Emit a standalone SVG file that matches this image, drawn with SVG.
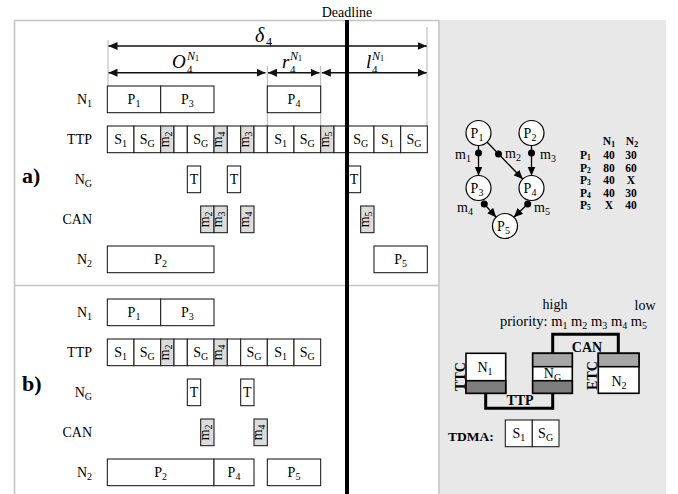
<svg xmlns="http://www.w3.org/2000/svg" width="678" height="494" viewBox="0 0 678 494">
<defs>
<style>
text{font-family:"Liberation Serif","Times New Roman",serif;fill:#000}
.l{font-size:14px;text-anchor:end}
.c{font-size:14px;text-anchor:middle}
.r{font-size:14px;text-anchor:middle}
.s{font-size:10px}
.b{fill:#fff;stroke:#222;stroke-width:1.1}
.g{fill:#dcdcdc;stroke:#222;stroke-width:1.1}
.guide{stroke:#b4b4b4;stroke-width:1;fill:none}
.arr{stroke:#111;stroke-width:1.4;fill:none;marker-start:url(#ah);marker-end:url(#ah)}
.frame{stroke:#c4c4c4;stroke-width:1.6;fill:none}
.it{font-style:italic}
.bold{font-weight:bold}
.nd{fill:#fff;stroke:#000;stroke-width:1.2}
.ed{stroke:#000;stroke-width:1.3;fill:none;marker-end:url(#dh)}
.bus{stroke:#000;stroke-width:3;fill:none}
.rb{fill:#fff;stroke:#000;stroke-width:1.6}
.tb{font-size:11.5px;font-weight:bold}
.tc{font-size:11.5px;font-weight:bold;text-anchor:middle}
</style>
<marker id="ah" viewBox="0 0 9 8" refX="9" refY="4" markerWidth="9" markerHeight="8" markerUnits="userSpaceOnUse" orient="auto-start-reverse"><path d="M0,0L9,4L0,8z" fill="#111"/></marker>
<marker id="dh" viewBox="0 0 9 8" refX="9" refY="4" markerWidth="9" markerHeight="8" markerUnits="userSpaceOnUse" orient="auto"><path d="M0,0L9,4L0,8z" fill="#000"/></marker>
</defs>

<!-- backgrounds and frames -->
<rect x="440" y="20" width="226" height="474" fill="#e8e8e8"/>
<path class="frame" d="M14.5,494 V20.5 H439 V494 M14.5,285.5 H439"/>

<!-- Deadline -->
<text class="c" x="347" y="17">Deadline</text>

<!-- top guides and arrows -->
<g id="dimensions">
<path class="guide" d="M108,40 V86 M427,27 V126 M267.3,66 V126 M320.7,66 V126"/>
<path class="arr" d="M108.5,46 H426.7"/>
<path class="arr" d="M108.5,72.7 H265.5"/>
<path class="arr" d="M268,72.7 H319.5"/>
<path class="arr" d="M321.8,72.7 H426.7"/>
<text class="it" x="255" y="42" font-size="20">δ</text><text x="266" y="46" font-size="12">4</text>
<text class="it" x="172" y="68" font-size="19">O</text><text x="187" y="73" font-size="11">4</text><text class="it" x="187" y="59.5" font-size="12">N<tspan font-size="8" font-style="normal" dy="1.5">1</tspan></text>
<text class="it" x="282" y="68" font-size="19">r</text><text x="290" y="73" font-size="11">4</text><text class="it" x="290" y="59.5" font-size="12">N<tspan font-size="8" font-style="normal" dy="1.5">1</tspan></text>
<text class="it" x="366" y="68" font-size="19">l</text><text x="372" y="73" font-size="11">4</text><text class="it" x="372" y="59.5" font-size="12">N<tspan font-size="8" font-style="normal" dy="1.5">1</tspan></text>
</g>

<!-- section a -->
<g id="section-a">
<text x="22" y="183" font-size="22" class="bold">a)</text>
<text class="l" x="92" y="104">N<tspan class="s" dy="3">1</tspan></text>
<text class="l" x="92" y="144">TTP</text>
<text class="l" x="92" y="184">N<tspan class="s" dy="3">G</tspan></text>
<text class="l" x="92" y="224">CAN</text>
<text class="l" x="92" y="264">N<tspan class="s" dy="3">2</tspan></text>

<g id="a-N1">
<rect class="b" x="107.33" y="86" width="53.33" height="26.67"/><text class="c" x="134" y="104.3">P<tspan class="s" dy="3">1</tspan></text>
<rect class="b" x="160.67" y="86" width="53.33" height="26.67"/><text class="c" x="187.33" y="104.3">P<tspan class="s" dy="3">3</tspan></text>
<rect class="b" x="267.33" y="86" width="53.33" height="26.67"/><text class="c" x="294" y="104.3">P<tspan class="s" dy="3">4</tspan></text>
</g>

<g id="a-TTP">
<rect class="b" x="107.33" y="126" width="26.67" height="26.67"/><text class="c" x="120.67" y="144.3">S<tspan class="s" dy="3">1</tspan></text>
<rect class="b" x="134" y="126" width="26.67" height="26.67"/><text class="c" x="147.33" y="144.3">S<tspan class="s" dy="3">G</tspan></text>
<rect class="g" x="160.67" y="126" width="13.33" height="26.67"/><text class="r" transform="translate(167.33,139.33) rotate(-90)" y="1.5">m<tspan class="s" dy="3">2</tspan></text>
<rect class="b" x="174" y="126" width="13.33" height="26.67"/>
<rect class="b" x="187.33" y="126" width="26.67" height="26.67"/><text class="c" x="200.67" y="144.3">S<tspan class="s" dy="3">G</tspan></text>
<rect class="g" x="214" y="126" width="13.33" height="26.67"/><text class="r" transform="translate(220.67,139.33) rotate(-90)" y="1.5">m<tspan class="s" dy="3">4</tspan></text>
<rect class="b" x="227.33" y="126" width="13.33" height="26.67"/>
<rect class="g" x="240.67" y="126" width="13.33" height="26.67"/><text class="r" transform="translate(247.33,139.33) rotate(-90)" y="1.5">m<tspan class="s" dy="3">3</tspan></text>
<rect class="b" x="254" y="126" width="13.33" height="26.67"/>
<rect class="b" x="267.33" y="126" width="26.67" height="26.67"/><text class="c" x="280.67" y="144.3">S<tspan class="s" dy="3">1</tspan></text>
<rect class="b" x="294" y="126" width="26.67" height="26.67"/><text class="c" x="307.33" y="144.3">S<tspan class="s" dy="3">G</tspan></text>
<rect class="g" x="320.67" y="126" width="13.33" height="26.67"/><text class="r" transform="translate(327.33,139.33) rotate(-90)" y="1.5">m<tspan class="s" dy="3">5</tspan></text>
<rect class="b" x="334" y="126" width="13.33" height="26.67"/>
<rect class="b" x="347.33" y="126" width="26.67" height="26.67"/><text class="c" x="360.67" y="144.3">S<tspan class="s" dy="3">G</tspan></text>
<rect class="b" x="374" y="126" width="26.67" height="26.67"/><text class="c" x="387.33" y="144.3">S<tspan class="s" dy="3">1</tspan></text>
<rect class="b" x="400.67" y="126" width="26.67" height="26.67"/><text class="c" x="414" y="144.3">S<tspan class="s" dy="3">G</tspan></text>
</g>

<g id="a-NG">
<rect class="b" x="187.33" y="166" width="13.33" height="26.67"/><text class="c" x="194" y="184.3">T</text>
<rect class="b" x="227.33" y="166" width="13.33" height="26.67"/><text class="c" x="234" y="184.3">T</text>
<rect class="b" x="347.33" y="166" width="13.33" height="26.67"/><text class="c" x="354" y="184.3">T</text>
</g>

<g id="a-CAN">
<rect class="g" x="200.67" y="206" width="13.33" height="26.67"/><text class="r" transform="translate(207.33,219.33) rotate(-90)" y="1.5">m<tspan class="s" dy="3">2</tspan></text>
<rect class="g" x="214" y="206" width="13.33" height="26.67"/><text class="r" transform="translate(220.67,219.33) rotate(-90)" y="1.5">m<tspan class="s" dy="3">3</tspan></text>
<rect class="g" x="240.67" y="206" width="13.33" height="26.67"/><text class="r" transform="translate(247.33,219.33) rotate(-90)" y="1.5">m<tspan class="s" dy="3">4</tspan></text>
<rect class="g" x="360.67" y="206" width="13.33" height="26.67"/><text class="r" transform="translate(367.33,219.33) rotate(-90)" y="1.5">m<tspan class="s" dy="3">5</tspan></text>
</g>

<g id="a-N2">
<rect class="b" x="107.33" y="246" width="106.67" height="26.67"/><text class="c" x="160.67" y="264.3">P<tspan class="s" dy="3">2</tspan></text>
<rect class="b" x="374" y="246" width="53.33" height="26.67"/><text class="c" x="400.67" y="264.3">P<tspan class="s" dy="3">5</tspan></text>
</g>
</g>

<!-- section b -->
<g id="section-b">
<text x="22" y="391" font-size="22" class="bold">b)</text>
<text class="l" x="92" y="317">N<tspan class="s" dy="3">1</tspan></text>
<text class="l" x="92" y="357">TTP</text>
<text class="l" x="92" y="397">N<tspan class="s" dy="3">G</tspan></text>
<text class="l" x="92" y="437">CAN</text>
<text class="l" x="92" y="477">N<tspan class="s" dy="3">2</tspan></text>

<g id="b-N1">
<rect class="b" x="107.33" y="299" width="53.33" height="26.67"/><text class="c" x="134" y="317.3">P<tspan class="s" dy="3">1</tspan></text>
<rect class="b" x="160.67" y="299" width="53.33" height="26.67"/><text class="c" x="187.33" y="317.3">P<tspan class="s" dy="3">3</tspan></text>
</g>

<g id="b-TTP">
<rect class="b" x="107.33" y="339" width="26.67" height="26.67"/><text class="c" x="120.67" y="357.3">S<tspan class="s" dy="3">1</tspan></text>
<rect class="b" x="134" y="339" width="26.67" height="26.67"/><text class="c" x="147.33" y="357.3">S<tspan class="s" dy="3">G</tspan></text>
<rect class="g" x="160.67" y="339" width="13.33" height="26.67"/><text class="r" transform="translate(167.33,352.33) rotate(-90)" y="1.5">m<tspan class="s" dy="3">2</tspan></text>
<rect class="b" x="174" y="339" width="13.33" height="26.67"/>
<rect class="b" x="187.33" y="339" width="26.67" height="26.67"/><text class="c" x="200.67" y="357.3">S<tspan class="s" dy="3">G</tspan></text>
<rect class="g" x="214" y="339" width="13.33" height="26.67"/><text class="r" transform="translate(220.67,352.33) rotate(-90)" y="1.5">m<tspan class="s" dy="3">4</tspan></text>
<rect class="b" x="227.33" y="339" width="13.33" height="26.67"/>
<rect class="b" x="240.67" y="339" width="26.67" height="26.67"/><text class="c" x="254" y="357.3">S<tspan class="s" dy="3">G</tspan></text>
<rect class="b" x="267.33" y="339" width="26.67" height="26.67"/><text class="c" x="280.67" y="357.3">S<tspan class="s" dy="3">1</tspan></text>
<rect class="b" x="294" y="339" width="26.67" height="26.67"/><text class="c" x="307.33" y="357.3">S<tspan class="s" dy="3">G</tspan></text>
</g>

<g id="b-NG">
<rect class="b" x="187.33" y="379" width="13.33" height="26.67"/><text class="c" x="194" y="397.3">T</text>
<rect class="b" x="240.67" y="379" width="13.33" height="26.67"/><text class="c" x="247.33" y="397.3">T</text>
</g>

<g id="b-CAN">
<rect class="g" x="200.67" y="419" width="13.33" height="26.67"/><text class="r" transform="translate(207.33,432.33) rotate(-90)" y="1.5">m<tspan class="s" dy="3">2</tspan></text>
<rect class="g" x="254" y="419" width="13.33" height="26.67"/><text class="r" transform="translate(260.67,432.33) rotate(-90)" y="1.5">m<tspan class="s" dy="3">4</tspan></text>
</g>

<g id="b-N2">
<rect class="b" x="107.33" y="459" width="106.67" height="26.67"/><text class="c" x="160.67" y="477.3">P<tspan class="s" dy="3">2</tspan></text>
<rect class="b" x="214" y="459" width="40" height="26.67"/><text class="c" x="234" y="477.3">P<tspan class="s" dy="3">4</tspan></text>
<rect class="b" x="267.33" y="459" width="53.33" height="26.67"/><text class="c" x="294" y="477.3">P<tspan class="s" dy="3">5</tspan></text>
</g>
</g>

<rect id="deadline-line" x="345" y="20" width="4" height="474" fill="#000"/>

<!-- task graph -->
<g id="graph-nodes">
<g id="gP1"><circle class="nd" cx="478.5" cy="133" r="12.5"/><text class="c" x="477" y="138">P<tspan class="s" dy="3">1</tspan></text></g>
<g id="gP2"><circle class="nd" cx="531.5" cy="133" r="12.5"/><text class="c" x="530" y="138">P<tspan class="s" dy="3">2</tspan></text></g>
<g id="gP3"><circle class="nd" cx="478.5" cy="188" r="12.5"/><text class="c" x="477" y="193">P<tspan class="s" dy="3">3</tspan></text></g>
<g id="gP4"><circle class="nd" cx="531.5" cy="188" r="12.5"/><text class="c" x="530" y="193">P<tspan class="s" dy="3">4</tspan></text></g>
<g id="gP5"><circle class="nd" cx="505" cy="226" r="12.5"/><text class="c" x="503.5" y="231">P<tspan class="s" dy="3">5</tspan></text></g>
</g>
<g id="graph-edges">
<path class="ed" d="M478.5,145.5 V175.5"/><circle cx="478.5" cy="153" r="3.5"/>
<path class="ed" d="M487,142 L522.7,179"/><circle cx="498.5" cy="154" r="3.5"/>
<path class="ed" d="M531.5,145.5 V175.5"/><circle cx="531.5" cy="153" r="3.5"/>
<path class="ed" d="M484.3,204 L496.2,217.2"/><circle cx="484.3" cy="204" r="3.5"/>
<path class="ed" d="M527.7,204 L513.8,217.2"/><circle cx="527.7" cy="204" r="3.5"/>
<text x="455" y="159" font-size="14">m<tspan class="s" dy="3">1</tspan></text>
<text x="505" y="158" font-size="14">m<tspan class="s" dy="3">2</tspan></text>
<text x="540" y="159" font-size="14">m<tspan class="s" dy="3">3</tspan></text>
<text x="457" y="212" font-size="14">m<tspan class="s" dy="3">4</tspan></text>
<text x="534" y="212" font-size="14">m<tspan class="s" dy="3">5</tspan></text>
</g>

<g id="wcet-table">
<text class="tc" x="609" y="145" font-size="13">N<tspan font-size="8.5" dy="2">1</tspan></text>
<text class="tc" x="632" y="145" font-size="13">N<tspan font-size="8.5" dy="2">2</tspan></text>
<text class="tb" x="580" y="159">P<tspan font-size="7.5" dy="1">1</tspan></text><text class="tc" x="609" y="159">40</text><text class="tc" x="631" y="159">30</text>
<text class="tb" x="580" y="171.5">P<tspan font-size="7.5" dy="1">2</tspan></text><text class="tc" x="609" y="171.5">80</text><text class="tc" x="631" y="171.5">60</text>
<text class="tb" x="580" y="184">P<tspan font-size="7.5" dy="1">3</tspan></text><text class="tc" x="609" y="184">40</text><text class="tc" x="631" y="184">X</text>
<text class="tb" x="580" y="196.5">P<tspan font-size="7.5" dy="1">4</tspan></text><text class="tc" x="609" y="196.5">40</text><text class="tc" x="631" y="196.5">30</text>
<text class="tb" x="580" y="209">P<tspan font-size="7.5" dy="1">5</tspan></text><text class="tc" x="609" y="209">X</text><text class="tc" x="631" y="209">40</text>
</g>

<!-- architecture -->
<text class="c" x="555" y="309">high</text>
<text class="c" x="645" y="310">low</text>
<text x="500" y="326" font-size="14.5">priority:  m<tspan class="s" dy="3">1</tspan><tspan dy="-3"> m</tspan><tspan class="s" dy="3">2</tspan><tspan dy="-3"> m</tspan><tspan class="s" dy="3">3</tspan><tspan dy="-3"> m</tspan><tspan class="s" dy="3">4</tspan><tspan dy="-3"> m</tspan><tspan class="s" dy="3">5</tspan></text>

<g id="buses">
<path class="bus" d="M552.7,353.3 V334.3 H618.3 V353.3"/>
<path class="bus" d="M485.7,393.3 V408.3 H552.7 V393.3"/>
<text class="c bold" x="587" y="351.5">CAN</text>
<text class="c bold" x="520" y="404.5">TTP</text>
</g>
<g id="arch-N1">
<rect class="rb" x="466" y="353.3" width="39.7" height="40"/>
<rect x="466" y="380.7" width="39.7" height="12.6" fill="#7d7d7d" stroke="#000" stroke-width="1.6"/>
<text class="c" x="485" y="371.5">N<tspan class="s" dy="3">1</tspan></text>
<text class="c bold" font-size="13" transform="translate(464.5,376.5) rotate(-90)">TTC</text>
</g>
<g id="arch-NG">
<rect class="rb" x="532.7" y="353.3" width="39.6" height="40"/>
<rect x="532.7" y="353.3" width="39.6" height="13.4" fill="#a6a6a6" stroke="#000" stroke-width="1.6"/>
<rect x="532.7" y="380.7" width="39.6" height="12.6" fill="#7d7d7d" stroke="#000" stroke-width="1.6"/>
<text class="c" x="552.5" y="378">N<tspan class="s" dy="3">G</tspan></text>
</g>
<g id="arch-N2">
<rect class="rb" x="598.3" y="353.3" width="40.7" height="40"/>
<rect x="598.3" y="353.3" width="40.7" height="13.4" fill="#a6a6a6" stroke="#000" stroke-width="1.6"/>
<text class="c" x="619" y="385.5">N<tspan class="s" dy="3">2</tspan></text>
<text class="c bold" font-size="13" transform="translate(596.5,375.5) rotate(-90)">ETC</text>
</g>
<g id="tdma">
<text x="448" y="441" font-size="13.5" class="bold">TDMA:</text>
<rect class="b" x="505.3" y="420" width="27" height="26.7"/><text class="c" x="518.8" y="438">S<tspan class="s" dy="3">1</tspan></text>
<rect class="b" x="532.3" y="420" width="26.7" height="26.7"/><text class="c" x="545.6" y="438">S<tspan class="s" dy="3">G</tspan></text>
</g>
</svg>
